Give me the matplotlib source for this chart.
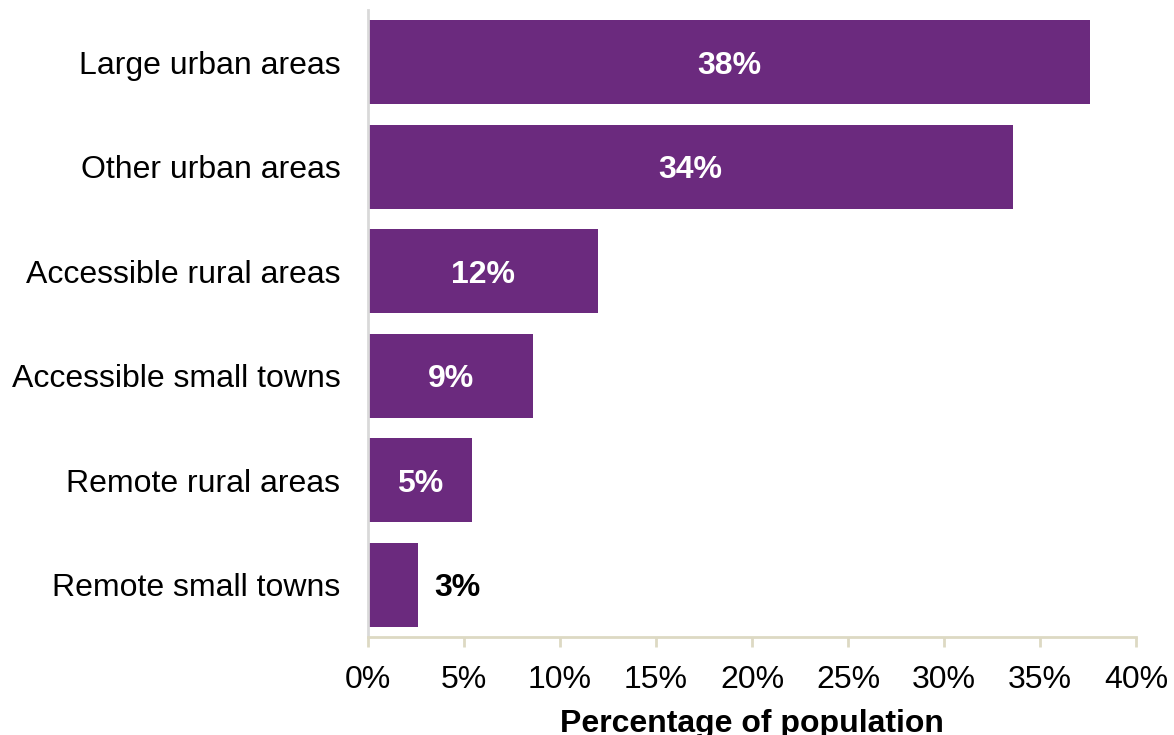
import matplotlib.pyplot as plt
import numpy as np

plt.rcParams['font.family'] = ['Liberation Sans', 'DejaVu Sans']

areas = ['Large urban areas', 'Other urban areas', 'Accessible rural areas',
         'Accessible small towns', 'Remote rural areas', 'Remote small towns']
share = [37.6, 33.6, 12.0, 8.6, 5.4, 2.6]
xticks = [0, 5, 10, 15, 20, 25, 30, 35, 40]

purple = '#6b2a7e'
axis_col = '#ddd9c3'
fs = 23

fig = plt.figure(figsize=(11.74, 7.35), dpi=100)
ax = fig.add_axes([0.3135, 0.1333, 0.6541, 0.8531])

y = np.arange(len(areas))
bars = ax.barh(y, share, height=0.8, color=purple)

for rect, v in zip(bars, share):
    label = '%.0f%%' % v
    if v < 4:
        ax.text(rect.get_width() + 0.85, rect.get_y() + rect.get_height() / 2,
                label, ha='left', va='center_baseline', color='black',
                fontsize=fs, fontweight='bold')
    else:
        ax.text(rect.get_width() / 2, rect.get_y() + rect.get_height() / 2,
                label, ha='center', va='center_baseline', color='white',
                fontsize=fs, fontweight='bold')

ax.set_ylim(len(areas) - 0.5, -0.5)
ax.set_xlim(0, 40)
ax.set_yticks(y)
ax.set_yticklabels(areas, fontsize=fs)
ax.set_xticks(xticks)
ax.set_xticklabels(['%d%%' % t for t in xticks], fontsize=fs)
ax.tick_params(axis='y', length=0, pad=20)
ax.tick_params(axis='x', length=7, width=2, color=axis_col, pad=13)

for s in ['top', 'right']:
    ax.spines[s].set_visible(False)
ax.spines['left'].set_color('#d9d9d9')
ax.spines['left'].set_linewidth(2)
ax.spines['bottom'].set_color(axis_col)
ax.spines['bottom'].set_linewidth(2)

ax.set_xlabel('Percentage of population', fontsize=fs, fontweight='bold', labelpad=10)

fig.savefig('out.png', dpi=100)
